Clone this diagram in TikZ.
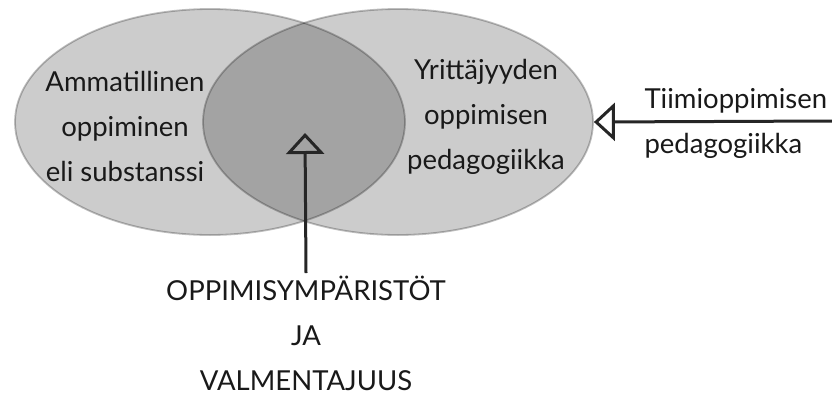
\documentclass[tikz,border=0pt]{standalone}
\usepackage{fontspec}
\setmainfont{Lato}
\usetikzlibrary{positioning}
\usetikzlibrary{shapes.geometric, arrows.meta}

\begin{document}
\begin{tikzpicture}[x=1pt,y=-1pt,
  setbox/.style={ellipse,draw=black,draw opacity=0.25,line width=1.8pt,fill=black,fill opacity=0.2,minimum width=390pt,minimum height=226pt,inner sep=0pt},
  lbl/.style={text=black!90,align=center,font=\fontsize{27.5}{45}\selectfont},
  arrowline/.style={black!85,line width=3pt,-{Triangle[open,length=21pt,width=38pt]}}]
\useasboundingbox (0,0) rectangle (832,405);
\node[setbox] (L) at (210,122) {};
\node[setbox] (R) at (398,122) {};
\node[lbl] (Ltext) at (125,126) {Ammatillinen\\oppiminen\\eli substanssi};
\node[lbl] (Rtext) at (486,117) {Yrittäjyyden\\oppimisen\\pedagogiikka};
\node[lbl,align=left,anchor=west] (team) at (641,123) {Tiimioppimisen\\pedagogiikka};
\node[lbl,anchor=north] (env) at (306,273) {OPPIMISYMPÄRISTÖT\\JA\\VALMENTAJUUS};
\coordinate (tip) at (305,133);
\coordinate (teamend) at (832,121);
\draw[arrowline] (env.north) -- (tip);
\draw[arrowline] (teamend) -- (R.east);
\end{tikzpicture}
\end{document}
